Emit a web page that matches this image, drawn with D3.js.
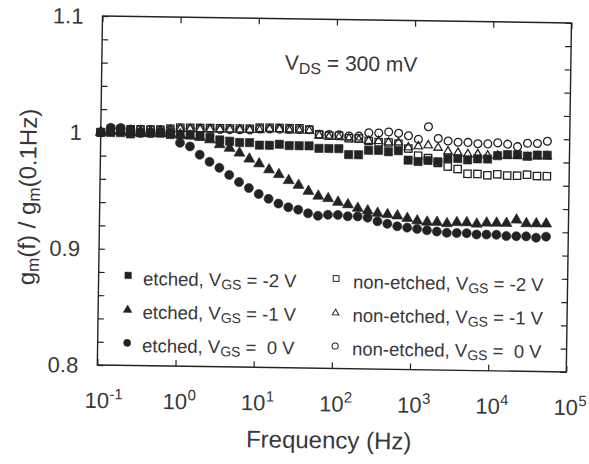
<!DOCTYPE html>
<html>
<head>
<meta charset="utf-8">
<script src="https://cdn.jsdelivr.net/npm/d3@7"></script>
<style>
  html, body { margin: 0; padding: 0; background: #fff; }
  svg { display: block; }
  text { font-family: 'Liberation Sans', Arial, sans-serif; fill: #383838; }
</style>
</head>
<body>
<svg id="chart"></svg>
<script>
const width = 589;
const height = 464;
// the scanned figure is slightly rotated, so the whole plot gets a small tilt
const origin = { x: 102.5, y: 16 };
const tilt = 0.85;
const plotW = 469;
const plotH = 349;
const ink = '#232323';

// measurement frequencies (Hz)
const freqHz = [0.1, 0.134, 0.1795, 0.2404, 0.3221, 0.4315, 0.5781, 0.7745, 1.0375, 1.39,
    1.862, 2.495, 3.342, 4.477, 5.998, 8.035, 10.76, 14.42, 19.32, 25.88,
    34.67, 46.45, 62.23, 83.37, 111.7, 149.6, 200.4, 268.5, 359.8, 481.9,
    645.7, 865, 1159, 1552, 2080, 2786, 3733, 5000, 6699, 8974,
    12023, 16106, 21577, 28907, 38726, 51880];

// gm(f) / gm(0.1 Hz)
const etchedM2 = [1.000, 1.000, 1.000, 0.999, 1.000, 1.000, 1.000, 0.999, 0.999, 0.999,
    0.998, 0.997, 0.995, 0.994, 0.993, 0.993, 0.991, 0.991, 0.992, 0.991,
    0.991, 0.991, 0.989, 0.989, 0.989, 0.984, 0.984, 0.988, 0.988, 0.987,
    0.988, 0.980, 0.979, 0.980, 0.979, 0.982, 0.982, 0.981, 0.982, 0.982,
    0.985, 0.986, 0.986, 0.985, 0.986, 0.986];
const etchedM1 = [1.000, 1.001, 1.001, 1.000, 1.000, 1.000, 1.000, 1.000, 0.999, 0.998,
    0.997, 0.995, 0.991, 0.988, 0.984, 0.979, 0.975, 0.970, 0.966, 0.961,
    0.957, 0.952, 0.948, 0.946, 0.943, 0.941, 0.938, 0.936, 0.934, 0.933,
    0.932, 0.930, 0.928, 0.927, 0.927, 0.926, 0.927, 0.927, 0.926, 0.927,
    0.927, 0.927, 0.930, 0.927, 0.927, 0.927];
const etched0 = [1.000, 1.004, 1.004, 1.002, 1.000, 1.000, 1.001, 1.000, 0.992, 0.989,
    0.982, 0.976, 0.971, 0.965, 0.959, 0.954, 0.949, 0.945, 0.941, 0.938,
    0.936, 0.933, 0.931, 0.932, 0.932, 0.931, 0.931, 0.930, 0.927, 0.925,
    0.923, 0.922, 0.921, 0.920, 0.919, 0.918, 0.918, 0.918, 0.917, 0.917,
    0.917, 0.916, 0.916, 0.916, 0.915, 0.916];
const nonEtchedM2 = [1.000, 1.003, 1.003, 1.003, 1.003, 1.003, 1.003, 1.004, 1.005, 1.005,
    1.005, 1.005, 1.005, 1.005, 1.005, 1.005, 1.006, 1.006, 1.006, 1.006,
    1.006, 1.005, 1.001, 1.000, 1.000, 0.998, 0.998, 0.996, 0.995, 0.995,
    0.994, 0.990, 0.984, 0.982, 0.978, 0.975, 0.973, 0.969, 0.969, 0.968,
    0.969, 0.968, 0.968, 0.969, 0.968, 0.968];
const nonEtchedM1 = [1.000, 1.002, 1.002, 1.002, 1.002, 1.002, 1.002, 1.003, 1.004, 1.004,
    1.004, 1.004, 1.004, 1.004, 1.004, 1.004, 1.004, 1.005, 1.005, 1.004,
    1.004, 1.004, 1.000, 0.999, 0.999, 0.998, 0.997, 0.996, 0.996, 0.995,
    0.995, 0.991, 0.992, 0.993, 0.991, 0.988, 0.987, 0.986, 0.986, 0.985,
    0.985, 0.985, 0.985, 0.984, 0.985, 0.985];
const nonEtched0 = [1.000, 1.003, 1.003, 1.003, 1.003, 1.003, 1.003, 1.003, 1.004, 1.004,
    1.004, 1.004, 1.004, 1.004, 1.004, 1.004, 1.005, 1.005, 1.005, 1.005,
    1.005, 1.005, 1.001, 1.001, 1.001, 1.000, 1.000, 1.003, 1.003, 1.004,
    1.003, 1.001, 0.998, 1.009, 0.999, 0.997, 0.996, 0.996, 0.995, 0.995,
    0.996, 0.995, 0.993, 0.996, 0.996, 0.998];

const xTickValues = [0.1, 1, 10, 100, 1000, 10000, 100000];
const xTickExponents = ['-1', '0', '1', '2', '3', '4', '5'];
const yTickValues = [0.8, 0.82, 0.84, 0.86, 0.88, 0.9, 0.92, 0.94, 0.96, 0.98,
    1.0, 1.02, 1.04, 1.06, 1.08, 1.1];
const yLabelValues = [0.8, 0.9, 1.0, 1.1];
const yTickLabels = ['0.8', '0.9', '1', '1.1'];

const series = [
    { label: 'non-etched', vgs: '-2', values: nonEtchedM2, shape: d3.symbolSquare, filled: false, col: 1, row: 0 },
    { label: 'non-etched', vgs: '-1', values: nonEtchedM1, shape: d3.symbolTriangle, filled: false, col: 1, row: 1 },
    { label: 'non-etched', vgs: '0', values: nonEtched0, shape: d3.symbolCircle, filled: false, col: 1, row: 2 },
    { label: 'etched', vgs: '-2', values: etchedM2, shape: d3.symbolSquare, filled: true, col: 0, row: 0 },
    { label: 'etched', vgs: '-1', values: etchedM1, shape: d3.symbolTriangle, filled: true, col: 0, row: 1 },
    { label: 'etched', vgs: '0', values: etched0, shape: d3.symbolCircle, filled: true, col: 0, row: 2 }
];

// marker areas for d3.symbol
function markerSize(s, legend) {
    const k = legend ? 0.62 : 1;
    if (s.shape === d3.symbolSquare) return (s.filled ? 68 : 54) * k;
    if (s.shape === d3.symbolTriangle) return (s.filled ? 52 : 30) * k;
    return (s.filled ? 64 : 48) * k;
}

const svg = d3.select('#chart')
    .attr('width', width)
    .attr('height', height);

const g = svg.append('g')
    .attr('transform', `translate(${origin.x},${origin.y}) rotate(${tilt})`);

const x = d3.scaleLog().domain([0.1, 1e5]).range([0, plotW]);
const y = d3.scaleLinear().domain([0.8, 1.1]).range([plotH, 0]);

// Axes: inward ticks on all four sides
g.append('g')
    .attr('transform', `translate(0,${plotH})`)
    .call(d3.axisBottom(x).tickValues(xTickValues).tickSize(-6).tickFormat(''));
g.append('g')
    .call(d3.axisTop(x).tickValues(xTickValues).tickSize(-6).tickFormat(''));
g.append('g')
    .call(d3.axisLeft(y).tickValues(yTickValues).tickSize(-6).tickFormat(''));
g.append('g')
    .attr('transform', `translate(${plotW},0)`)
    .call(d3.axisRight(y).tickValues(yTickValues).tickSize(-6).tickFormat(''));
g.selectAll('.domain').remove();
g.selectAll('.tick line').attr('stroke', ink).attr('stroke-width', 1.2);

g.append('rect')
    .attr('width', plotW)
    .attr('height', plotH)
    .attr('fill', 'none')
    .attr('stroke', ink)
    .attr('stroke-width', 1.4);

// tick labels
g.selectAll('.xbase')
    .data(xTickValues)
    .join('text')
    .attr('x', d => x(d))
    .attr('y', plotH + 43)
    .attr('text-anchor', 'middle')
    .style('font-size', '22px')
    .text('10');
g.selectAll('.xexp')
    .data(xTickValues)
    .join('text')
    .attr('x', d => x(d) + 12.5)
    .attr('y', plotH + 34)
    .style('font-size', '15px')
    .text((d, i) => xTickExponents[i]);

g.selectAll('.ylab')
    .data(yLabelValues)
    .join('text')
    .attr('x', -19)
    .attr('y', d => y(d))
    .attr('dy', '0.36em')
    .attr('text-anchor', 'end')
    .style('font-size', '22px')
    .text((d, i) => yTickLabels[i]);

// axis titles
g.append('text')
    .attr('x', plotW / 2 - 2)
    .attr('y', plotH + 80)
    .attr('text-anchor', 'middle')
    .style('font-size', '24px')
    .text('Frequency (Hz)');

const yTitle = g.append('text')
    .attr('transform', `translate(-64,182) rotate(-90)`)
    .attr('text-anchor', 'middle')
    .style('font-size', '24px');
yTitle.append('tspan').text('g');
yTitle.append('tspan').attr('dy', 4).style('font-size', '17px').text('m');
yTitle.append('tspan').attr('dy', -4).text('(f) / g');
yTitle.append('tspan').attr('dy', 4).style('font-size', '17px').text('m');
yTitle.append('tspan').attr('dy', -4).text('(0.1Hz)');

// V_DS annotation
const vds = g.append('text')
    .attr('x', 183)
    .attr('y', 51)
    .style('font-size', '21px');
vds.append('tspan').text('V');
vds.append('tspan').attr('dy', 4).style('font-size', '16px').text('DS');
vds.append('tspan').attr('dy', -4).text(' = 300 mV');

// data markers
series.forEach(s => {
    g.append('g')
        .selectAll('path')
        .data(s.values)
        .join('path')
        .attr('transform', (d, i) => `translate(${x(freqHz[i])},${y(d)})`)
        .attr('d', d3.symbol(s.shape, markerSize(s, false)))
        .attr('fill', s.filled ? ink : 'none')
        .attr('stroke', ink)
        .attr('stroke-width', s.filled ? 0.6 : 1.3);
});

// legend
const legendCols = [{ marker: 29.5, text: 44.5 }, { marker: 237.5, text: 254.5 }];
const legendMarkerY = [259, 293.5, 326.5];
const legendTextY = [268.5, 302, 335.5];

series.forEach(s => {
    const c = legendCols[s.col];
    g.append('path')
        .attr('transform', `translate(${c.marker},${legendMarkerY[s.row]})`)
        .attr('d', d3.symbol(s.shape, markerSize(s, true)))
        .attr('fill', s.filled ? ink : 'none')
        .attr('stroke', ink)
        .attr('stroke-width', s.filled ? 0.5 : 1);
    const t = g.append('text')
        .attr('x', c.text)
        .attr('y', legendTextY[s.row])
        .style('font-size', '18.5px');
    t.append('tspan').text(s.label + ', V');
    t.append('tspan').attr('dy', 3).style('font-size', '14px').text('GS');
    const eq = s.vgs === '0' ? ' =\u00a0\u00a00 V' : ` = ${s.vgs} V`;
    t.append('tspan').attr('dy', -3).text(eq);
});
</script>
</body>
</html>
